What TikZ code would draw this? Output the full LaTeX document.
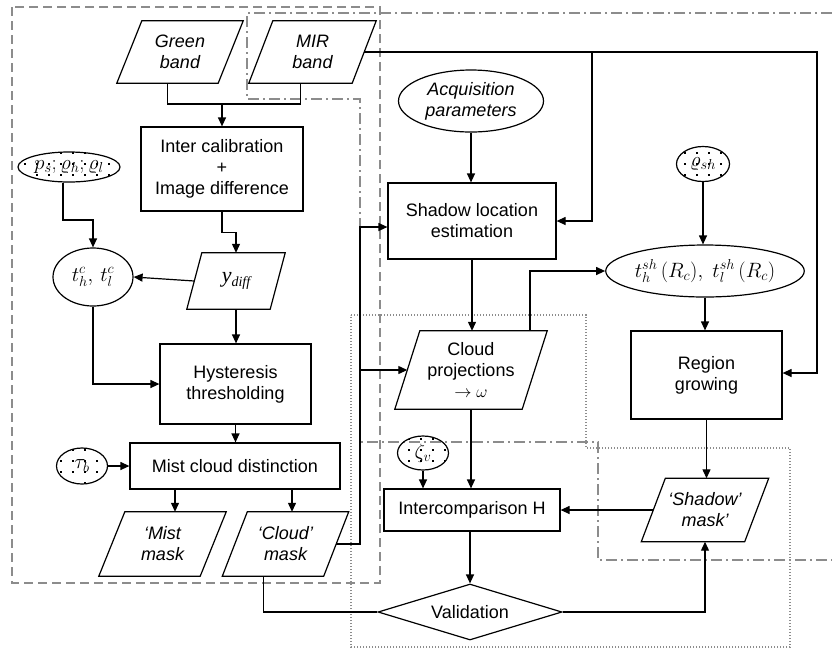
\documentclass[tikz,border=0pt]{standalone}
\usepackage{fontspec}
\setmainfont{Liberation Sans}
\newfontfamily\tms{Liberation Serif}
\usetikzlibrary{arrows.meta,shapes.geometric,patterns,calc}
\pgfdeclarepatternformonly{sqdots}{\pgfqpoint{-1pt}{-1pt}}{\pgfqpoint{13pt}{12pt}}{\pgfqpoint{12pt}{11pt}}{\pgfpathrectangle{\pgfqpoint{0pt}{0pt}}{\pgfqpoint{2.4pt}{2.4pt}}\pgfusepath{fill}}
\newcommand\mypara[8][]{%
  \node[minimum width=#5pt, minimum height=#6pt, inner sep=0pt, #1] (#2) at (#3,#4) {#8};
  \draw[line width=1.2pt] ($(#2.north west)+(#7/2,0)$) -- ($(#2.north east)+(#7/2,0)$) -- ($(#2.south east)+(-#7/2,0)$) -- ($(#2.south west)+(-#7/2,0)$) -- cycle;}
\begin{document}
\begin{tikzpicture}[x=1pt,y=-1pt,
  every node/.style={font=\fontsize{18}{21}\selectfont, align=center},
  box/.style={draw, line width=1.2pt, inner sep=0pt},
  ell/.style={draw, ellipse, line width=1.2pt, inner sep=0pt},
  dell/.style={ell, pattern=sqdots, font=\fontsize{20}{22}\selectfont},
  it/.style={font=\fontsize{18}{21}\selectfont\itshape},
  arr/.style={line width=1.2pt, -{Triangle[length=9pt,width=8pt]}},
  ln/.style={line width=1.2pt},
  gdash/.style={draw=black!45, line width=1.6pt, dash pattern=on 9pt off 5pt},
  gdashdot/.style={draw=black!45, line width=1.6pt, dash pattern=on 11pt off 4pt on 2pt off 4pt},
  gdot/.style={draw=black!45, line width=1.3pt, dash pattern=on 1.3pt off 1.7pt}]
\useasboundingbox (0,0) rectangle (832,649);
% grey regions
\draw[gdash] (12,7) rectangle (380,583);
\draw[gdashdot] (832,13) -- (247,13) -- (247,99) -- (360,99) -- (360,442) -- (598,442) -- (598,560) -- (832,560);
\draw[gdot] (351,315) -- (586,315) -- (586,448) -- (790,448) -- (790,647) -- (351,647) -- cycle;

% left column
\mypara[it]{green}{180}{52}{101}{62}{25}{Green\\band}
\mypara[it]{mir}{312.5}{52}{103}{62}{24}{MIR\\band}
\node[box, minimum width=162pt, minimum height=84pt] (inter) at (222,169) {Inter calibration\\+\\Image difference};
\node[dell, minimum width=102pt, minimum height=30pt] (pell) at (69,167) {$p_s;\varrho_h;\varrho_l$};
\node[ell, minimum width=80pt, minimum height=58pt, font=\fontsize{21}{23}\selectfont] (tc) at (93,277) {$t_h^c,\,t_l^c$};
\mypara{ydiff}{236}{281}{83}{56}{15}{{\tms\itshape\fontsize{22}{22}\selectfont y\raisebox{-4pt}{\fontsize{14}{14}\selectfont diff}}}
\node[box, minimum width=151pt, minimum height=80pt] (hyst) at (235.5,384) {Hysteresis\\thresholding};
\node[box, minimum width=210pt, minimum height=46pt] (mist) at (235,466) {Mist cloud distinction};
\node[dell, minimum width=51pt, minimum height=36pt] (tb) at (82,466) {$\tau_b$};
\mypara[it]{mistm}{162.5}{544}{101}{64}{26}{‘Mist\\mask}
\mypara[it]{cloudm}{285.5}{544}{101}{64}{25}{‘Cloud’\\mask}

% middle column
\node[ell, it, minimum width=145pt, minimum height=62pt] (acq) at (471,101) {Acquisition\\parameters};
\node[box, minimum width=168pt, minimum height=76pt] (shad) at (472,221) {Shadow location\\estimation};
\mypara{cproj}{471}{370}{127}{78}{25}{Cloud\\projections\\$\rightarrow\omega$}
\node[dell, minimum width=51pt, minimum height=34pt] (zv) at (423,453) {$\zeta_v$};
\node[box, minimum width=176pt, minimum height=42pt] (interH) at (472,510) {Intercomparison H};
\node[draw, diamond, aspect=3.29, line width=1.2pt, inner sep=0pt, minimum width=184pt, minimum height=56pt] (val) at (470,612) {Validation};

% right column
\node[dell, minimum width=53pt, minimum height=35pt] (csh) at (703,164) {$\varrho_{sh}$};
\node[ell, minimum width=184pt, minimum height=52pt, font=\fontsize{20}{22}\selectfont] (tsh) at (705,271) {$t_h^{sh}\,(R_c),\; t_l^{sh}\,(R_c)$};
\node[box, minimum width=151pt, minimum height=88pt] (region) at (706.5,375) {Region\\growing};
\mypara[it]{shm}{705}{510}{103}{63}{24}{‘Shadow’\\mask’}

% connectors
\coordinate (j1) at (222,104);
\draw[ln] ([xshift=-12.5pt]green.south) |- (j1) -| ([xshift=-12pt]mir.south);
\draw[arr] (j1) -- (inter.north);
\draw[arr] (inter.south) -- ++(0,21) -| (ydiff.north);
\draw[arr] (ydiff.west) -- (tc.east);
\draw[arr] (ydiff.south) -- (ydiff.south |- hyst.north);
\coordinate (j2) at (93,220);
\draw[arr] ([xshift=-6pt]pell.south) |- (j2) -- (tc.north);
\draw[arr] (tc.south) |- (hyst.west);
\draw[arr] (hyst.south) -- (hyst.south |- mist.north);
\draw[arr] (tb.east) -- (mist.west);
\draw[arr] ([xshift=-60pt]mist.south) -- ([xshift=-60pt]mist.south |- mistm.north);
\draw[arr] ([xshift=57pt]mist.south) -- ([xshift=57pt]mist.south |- cloudm.north);
\coordinate (j3) at (360,544);
\coordinate (j4) at (360,370);
\draw[arr] (cloudm.east) -- (j3) |- ([yshift=-6pt]shad.west);
\draw[arr] (j4) -- (cproj.west);
\draw[ln] ([xshift=-22pt]cloudm.south) |- (val.west);
\draw[arr] (acq.south) -- (acq.south |- shad.north);
\coordinate (j5) at (817,52);
\coordinate (j6) at (592,52);
\draw[arr] (mir.east) -- (j5) |- ([yshift=2pt]region.east);
\draw[arr] (j6) |- (shad.east);
\draw[arr] (shad.south) -- (shad.south |- cproj.north);
\draw[arr] ([xshift=59pt]cproj.north) |- (tsh.west);
\draw[arr] (csh.south) -- (csh.south |- tsh.north);
\draw[arr] (tsh.south) -- (tsh.south |- region.north);
\draw[arr] (region.south) -- (region.south |- shm.north);
\draw[arr] (shm.west) -- (shm.west -| interH.east);
\draw[arr] (cproj.south) -- (cproj.south |- interH.north);
\draw[arr] (zv.south) -- (zv.south |- interH.north);
\draw[arr] ([xshift=-2pt]interH.south) -- ([xshift=-2pt]interH.south |- val.north);
\draw[arr] (val.east) -| (shm.south);
\end{tikzpicture}
\end{document}
